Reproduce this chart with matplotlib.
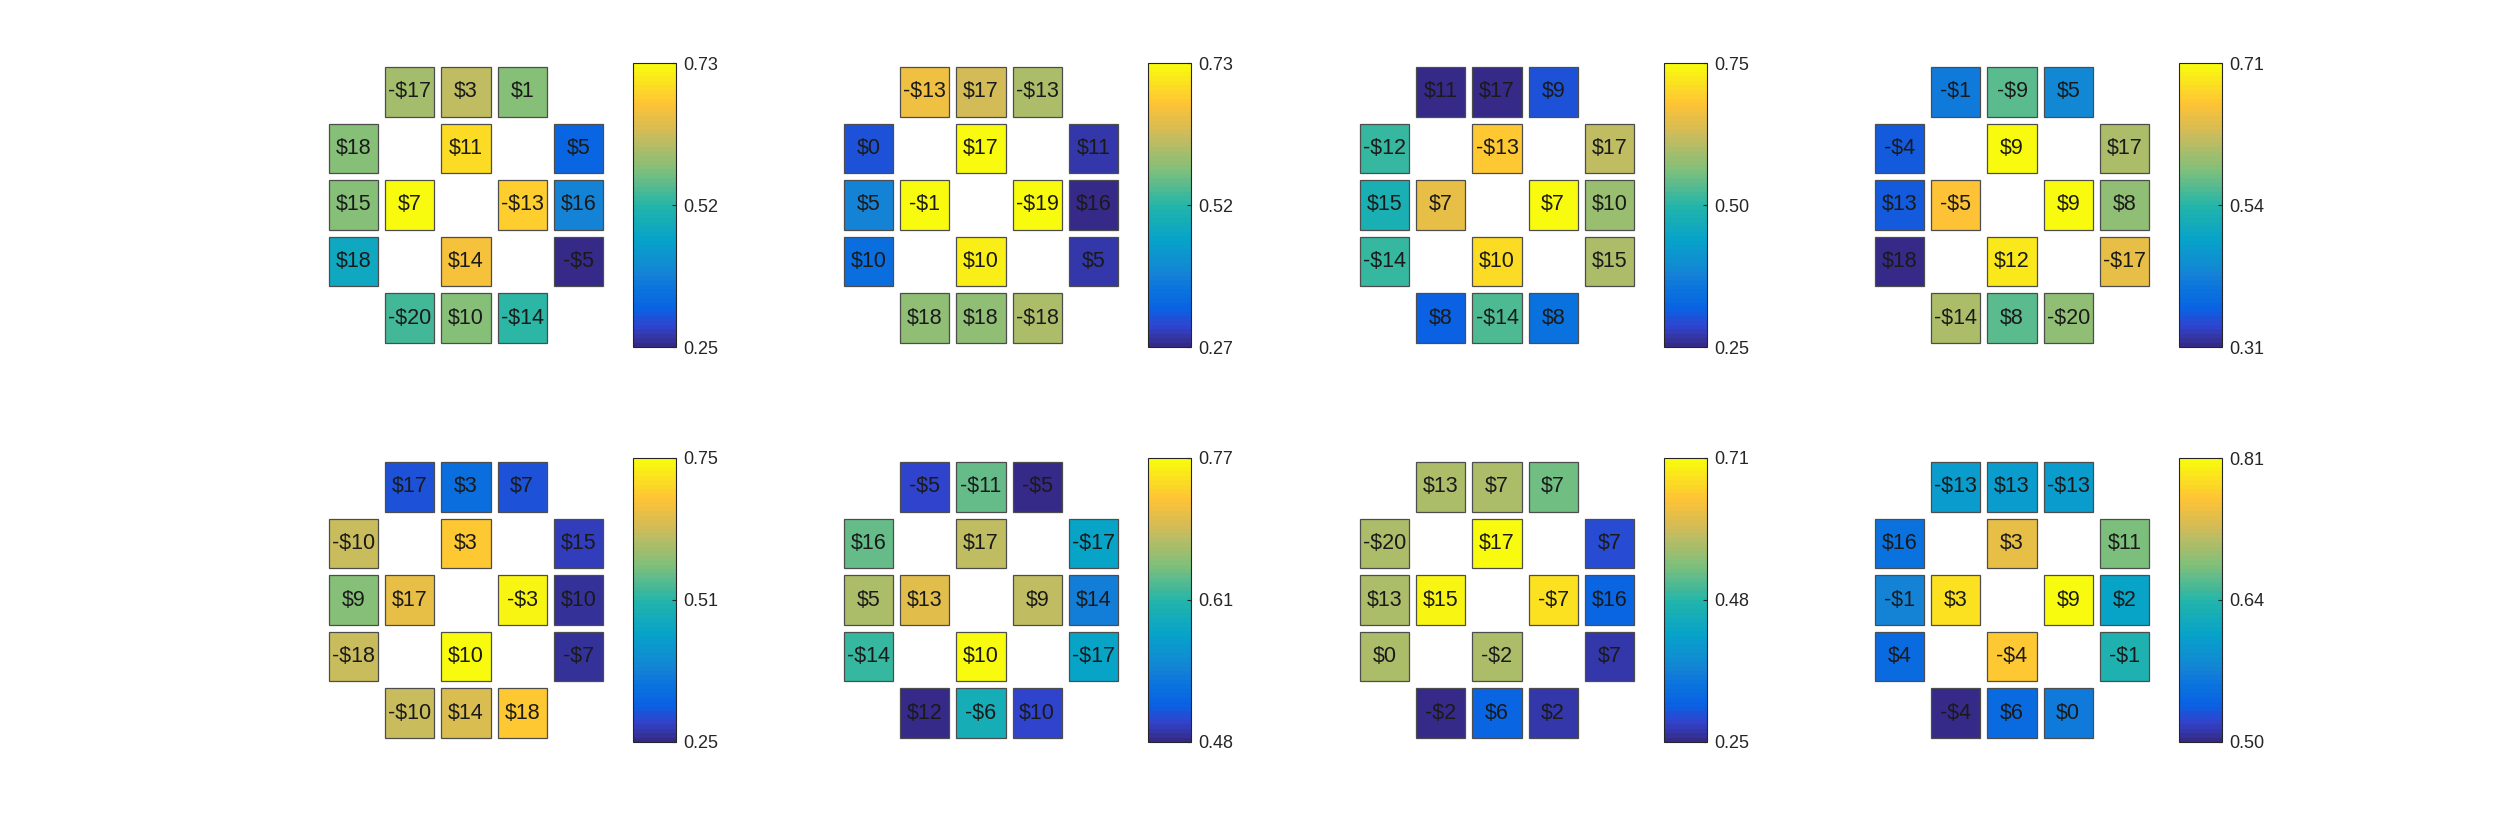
import numpy as np
import matplotlib
matplotlib.use("Agg")
import matplotlib.pyplot as plt
from matplotlib.colors import LinearSegmentedColormap, ListedColormap, Normalize
from matplotlib.patches import Rectangle
import matplotlib.cm as cm

# cell layout on the 5x5 ring (row, col)
cell_rows = [0, 0, 0, 1, 1, 1, 2, 2, 2, 2, 3, 3, 3, 4, 4, 4]
cell_cols = [1, 2, 3, 0, 2, 4, 0, 1, 3, 4, 0, 2, 4, 1, 2, 3]

# colour limits and middle tick label of each panel
vmins = [0.25, 0.27, 0.25, 0.31, 0.25, 0.48, 0.25, 0.50]
vmaxs = [0.73, 0.73, 0.75, 0.71, 0.75, 0.77, 0.71, 0.81]
mid_labels = ["0.52", "0.52", "0.50", "0.54", "0.51", "0.61", "0.48", "0.64"]

# dollar amounts shown in the cells
amounts_1 = [-17, 3, 1, 18, 11, 5, 15, 7, -13, 16, 18, 14, -5, -20, 10, -14]
amounts_2 = [-13, 17, -13, 0, 17, 11, 5, -1, -19, 16, 10, 10, 5, 18, 18, -18]
amounts_3 = [11, 17, 9, -12, -13, 17, 15, 7, 7, 10, -14, 10, 15, 8, -14, 8]
amounts_4 = [-1, -9, 5, -4, 9, 17, 13, -5, 9, 8, 18, 12, -17, -14, 8, -20]
amounts_5 = [17, 3, 7, -10, 3, 15, 9, 17, -3, 10, -18, 10, -7, -10, 14, 18]
amounts_6 = [-5, -11, -5, 16, 17, -17, 5, 13, 9, 14, -14, 10, -17, 12, -6, 10]
amounts_7 = [13, 7, 7, -20, 17, 7, 13, 15, -7, 16, 0, -2, 7, -2, 6, 2]
amounts_8 = [-13, 13, -13, 16, 3, 11, -1, 3, 9, 2, 4, -4, -1, -4, 6, 0]

# colour values of the cells
values_1 = [0.58, 0.60, 0.55, 0.55, 0.69, 0.32, 0.55, 0.73, 0.67, 0.37, 0.45, 0.65, 0.25, 0.51, 0.55, 0.49]
values_2 = [0.65, 0.62, 0.59, 0.32, 0.73, 0.29, 0.39, 0.73, 0.73, 0.27, 0.35, 0.71, 0.29, 0.57, 0.57, 0.59]
values_3 = [0.25, 0.25, 0.30, 0.51, 0.68, 0.61, 0.48, 0.65, 0.75, 0.58, 0.51, 0.71, 0.60, 0.32, 0.53, 0.35]
values_4 = [0.40, 0.54, 0.42, 0.36, 0.71, 0.59, 0.36, 0.65, 0.71, 0.57, 0.31, 0.69, 0.63, 0.59, 0.54, 0.57]
values_5 = [0.30, 0.34, 0.30, 0.62, 0.68, 0.28, 0.57, 0.65, 0.74, 0.26, 0.62, 0.75, 0.26, 0.62, 0.64, 0.68]
values_6 = [0.50, 0.65, 0.48, 0.65, 0.69, 0.59, 0.68, 0.71, 0.69, 0.55, 0.63, 0.77, 0.59, 0.48, 0.61, 0.50]
values_7 = [0.57, 0.57, 0.53, 0.57, 0.71, 0.29, 0.57, 0.70, 0.68, 0.32, 0.57, 0.57, 0.27, 0.25, 0.32, 0.27]
values_8 = [0.61, 0.61, 0.61, 0.56, 0.75, 0.69, 0.58, 0.79, 0.81, 0.62, 0.55, 0.77, 0.65, 0.50, 0.55, 0.57]

all_amounts = [amounts_1, amounts_2, amounts_3, amounts_4, amounts_5, amounts_6, amounts_7, amounts_8]
all_values = [values_1, values_2, values_3, values_4, values_5, values_6, values_7, values_8]

# parula-like colormap, 64 steps like matlab
anchors = [
    (0.000, (0.208, 0.166, 0.529)),
    (0.063, (0.190, 0.265, 0.800)),
    (0.125, (0.040, 0.380, 0.890)),
    (0.190, (0.040, 0.450, 0.870)),
    (0.250, (0.080, 0.510, 0.840)),
    (0.375, (0.024, 0.640, 0.790)),
    (0.500, (0.140, 0.710, 0.660)),
    (0.625, (0.500, 0.750, 0.480)),
    (0.750, (0.800, 0.735, 0.360)),
    (0.860, (0.995, 0.760, 0.210)),
    (1.000, (0.976, 0.984, 0.055)),
]
smooth = LinearSegmentedColormap.from_list("parula_approx", anchors)
parula = ListedColormap(smooth(np.linspace(0, 1, 64)))

W, H = 2500, 833
fig = plt.figure(figsize=(25, 8.33), dpi=100)

grid_lefts = [329, 844, 1360, 1875]
grid_tops = [67, 462]
cell = 0.875
half = cell / 2

for i in range(8):
    r_panel, c_panel = divmod(i, 4)
    gl = grid_lefts[c_panel]
    gt = grid_tops[r_panel]
    ax = fig.add_axes([gl / W, (H - gt - 276) / H, 274 / W, 276 / H])
    ax.set_xlim(-half, 4 + half)
    ax.set_ylim(4 + half, -half)
    ax.axis("off")

    norm = Normalize(vmin=vmins[i], vmax=vmaxs[i])
    for r, c, amt, v in zip(cell_rows, cell_cols, all_amounts[i], all_values[i]):
        ax.add_patch(Rectangle((c - half, r - half), cell, cell,
                               facecolor=parula(norm(v)), edgecolor="#4d4d4d",
                               linewidth=0.9, clip_on=False))
        label = ("-$%d" % abs(amt)) if amt < 0 else ("$%d" % amt)
        ax.text(c, r, label, ha="center", va="center", fontsize=15.5,
                family="Liberation Sans", color="#1a1a1a")

    # colorbar
    cl = gl + 304
    cax = fig.add_axes([cl / W, (H - (gt - 4) - 284) / H, 43 / W, 284 / H])
    sm = cm.ScalarMappable(norm=norm, cmap=parula)
    cb = fig.colorbar(sm, cax=cax)
    mid = (vmins[i] + vmaxs[i]) / 2
    cb.set_ticks([vmins[i], mid, vmaxs[i]])
    cb.set_ticklabels(["%.2f" % vmins[i], mid_labels[i], "%.2f" % vmaxs[i]])
    cb.ax.tick_params(direction="in", length=3, width=0.8, pad=5, labelsize=13,
                      colors="#262626", right=True, left=False)
    for t in cb.ax.get_yticklabels():
        t.set_family("Liberation Sans")
    cb.outline.set_linewidth(0.8)
    cb.outline.set_edgecolor("#262626")

fig.savefig("out.png", dpi=100)
